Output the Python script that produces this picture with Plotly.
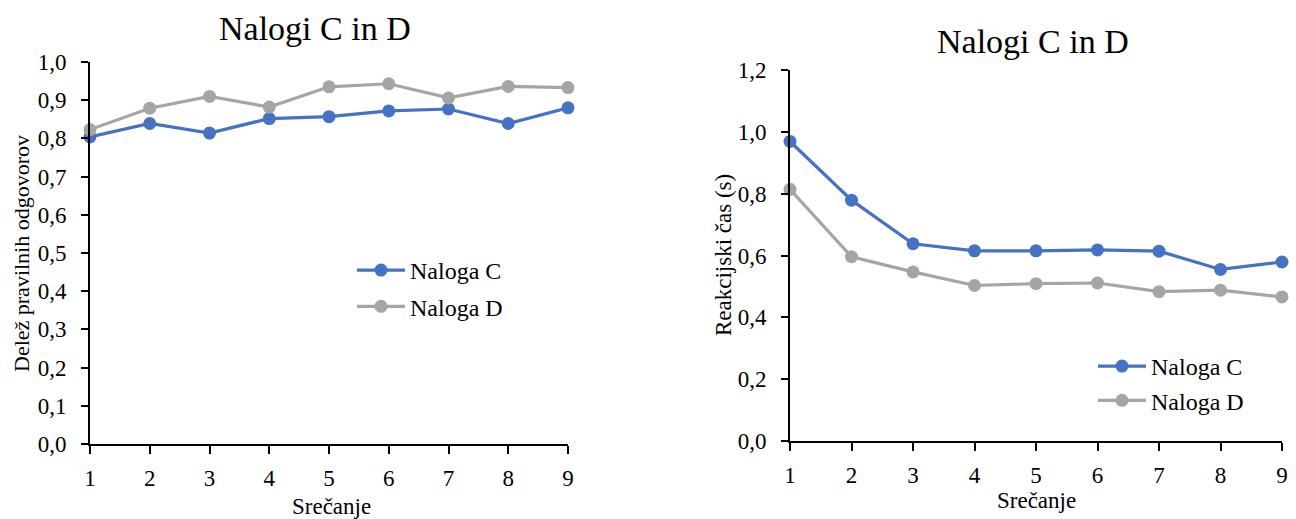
import plotly.graph_objects as go

sessions = [1, 2, 3, 4, 5, 6, 7, 8, 9]
acc_C = [0.804, 0.839, 0.814, 0.852, 0.857, 0.872, 0.877, 0.839, 0.880]
acc_D = [0.823, 0.879, 0.910, 0.882, 0.935, 0.943, 0.906, 0.936, 0.933]
rt_C = [0.969, 0.779, 0.638, 0.615, 0.615, 0.618, 0.614, 0.555, 0.579]
rt_D = [0.814, 0.596, 0.547, 0.503, 0.509, 0.511, 0.483, 0.488, 0.466]
series_names = ["Naloga C", "Naloga D"]
title_text = "Nalogi C in D"
x_title = "Srečanje"
y_title_left = "Delež pravilnih odgovorov"
y_title_right = "Reakcijski čas (s)"

BLUE = "#4472C4"
GRAY = "#A5A5A5"
FONT = "Liberation Serif"
W, H = 1296, 519

fig = go.Figure()

def add(x, y, name, color, xa, ya, legend, group):
    fig.add_trace(go.Scatter(
        x=x, y=y, name=name, mode="lines+markers",
        line=dict(color=color, width=3.2),
        marker=dict(color=color, size=13),
        xaxis=xa, yaxis=ya, legend=legend, legendgroup=group, cliponaxis=False,
    ))

add(sessions, acc_C, series_names[0], BLUE, "x", "y", "legend", "lc")
add(sessions, acc_D, series_names[1], GRAY, "x", "y", "legend", "ld")
add(sessions, rt_C, series_names[0], BLUE, "x2", "y2", "legend2", "right")
add(sessions, rt_D, series_names[1], GRAY, "x2", "y2", "legend2", "right")

axis_common = dict(
    showgrid=False, zeroline=False, showline=True, linecolor="black", linewidth=1.8,
    ticks="outside", tickcolor="black", tickwidth=1.5, automargin=False,
    tickfont=dict(family=FONT, size=23, color="black"),
)

fig.update_layout(
    width=W, height=H,
    margin=dict(l=0, r=0, t=0, b=0),
    paper_bgcolor="white", plot_bgcolor="white",
    separators=",.",
    showlegend=True,
    font=dict(family=FONT, color="black"),
    xaxis=dict(domain=[90 / W, 568 / W], range=[1, 9], dtick=1, anchor="y",
               ticklen=8, ticklabelstandoff=4, **axis_common),
    yaxis=dict(domain=[1 - 444 / H, 1 - 62 / H], range=[0, 1.0], dtick=0.1, tickformat=".1f",
               anchor="x", ticklen=7, ticklabelstandoff=10, **axis_common),
    xaxis2=dict(domain=[790 / W, 1282 / W], range=[1, 9], dtick=1, anchor="y2",
                ticklen=8, ticklabelstandoff=4, **axis_common),
    yaxis2=dict(domain=[1 - 441 / H, 1 - 70 / H], range=[0, 1.2], dtick=0.2, tickformat=".1f",
                anchor="x2", ticklen=7, ticklabelstandoff=10, **axis_common),
    legend=dict(x=352 / W, y=1 - 248 / H, xanchor="left", yanchor="top",
                bgcolor="rgba(0,0,0,0)", font=dict(family=FONT, size=24),
                itemwidth=48, tracegroupgap=2, traceorder="grouped"),
    legend2=dict(x=1093 / W, y=1 - 344 / H, xanchor="left", yanchor="top",
                 bgcolor="rgba(0,0,0,0)", font=dict(family=FONT, size=24),
                 itemwidth=48, tracegroupgap=0),
    annotations=[
        dict(text=title_text, x=315 / W, y=1 - 29 / H, xref="paper", yref="paper",
             xanchor="center", yanchor="middle", showarrow=False,
             font=dict(family=FONT, size=34, color="black")),
        dict(text=title_text, x=1033 / W, y=1 - 42 / H, xref="paper", yref="paper",
             xanchor="center", yanchor="middle", showarrow=False,
             font=dict(family=FONT, size=34, color="black")),
        dict(text=x_title, x=331 / W, y=1 - 506 / H, xref="paper", yref="paper",
             xanchor="center", yanchor="middle", showarrow=False,
             font=dict(family=FONT, size=23, color="black")),
        dict(text=x_title, x=1036 / W, y=1 - 500 / H, xref="paper", yref="paper",
             xanchor="center", yanchor="middle", showarrow=False,
             font=dict(family=FONT, size=23, color="black")),
        dict(text=y_title_left, x=21 / W, y=1 - 254 / H, xref="paper", yref="paper",
             xanchor="center", yanchor="middle", showarrow=False, textangle=-90,
             font=dict(family=FONT, size=22, color="black")),
        dict(text=y_title_right, x=723 / W, y=1 - 255 / H, xref="paper", yref="paper",
             xanchor="center", yanchor="middle", showarrow=False, textangle=-90,
             font=dict(family=FONT, size=23, color="black")),
    ],
)

fig.write_html("out.html")
